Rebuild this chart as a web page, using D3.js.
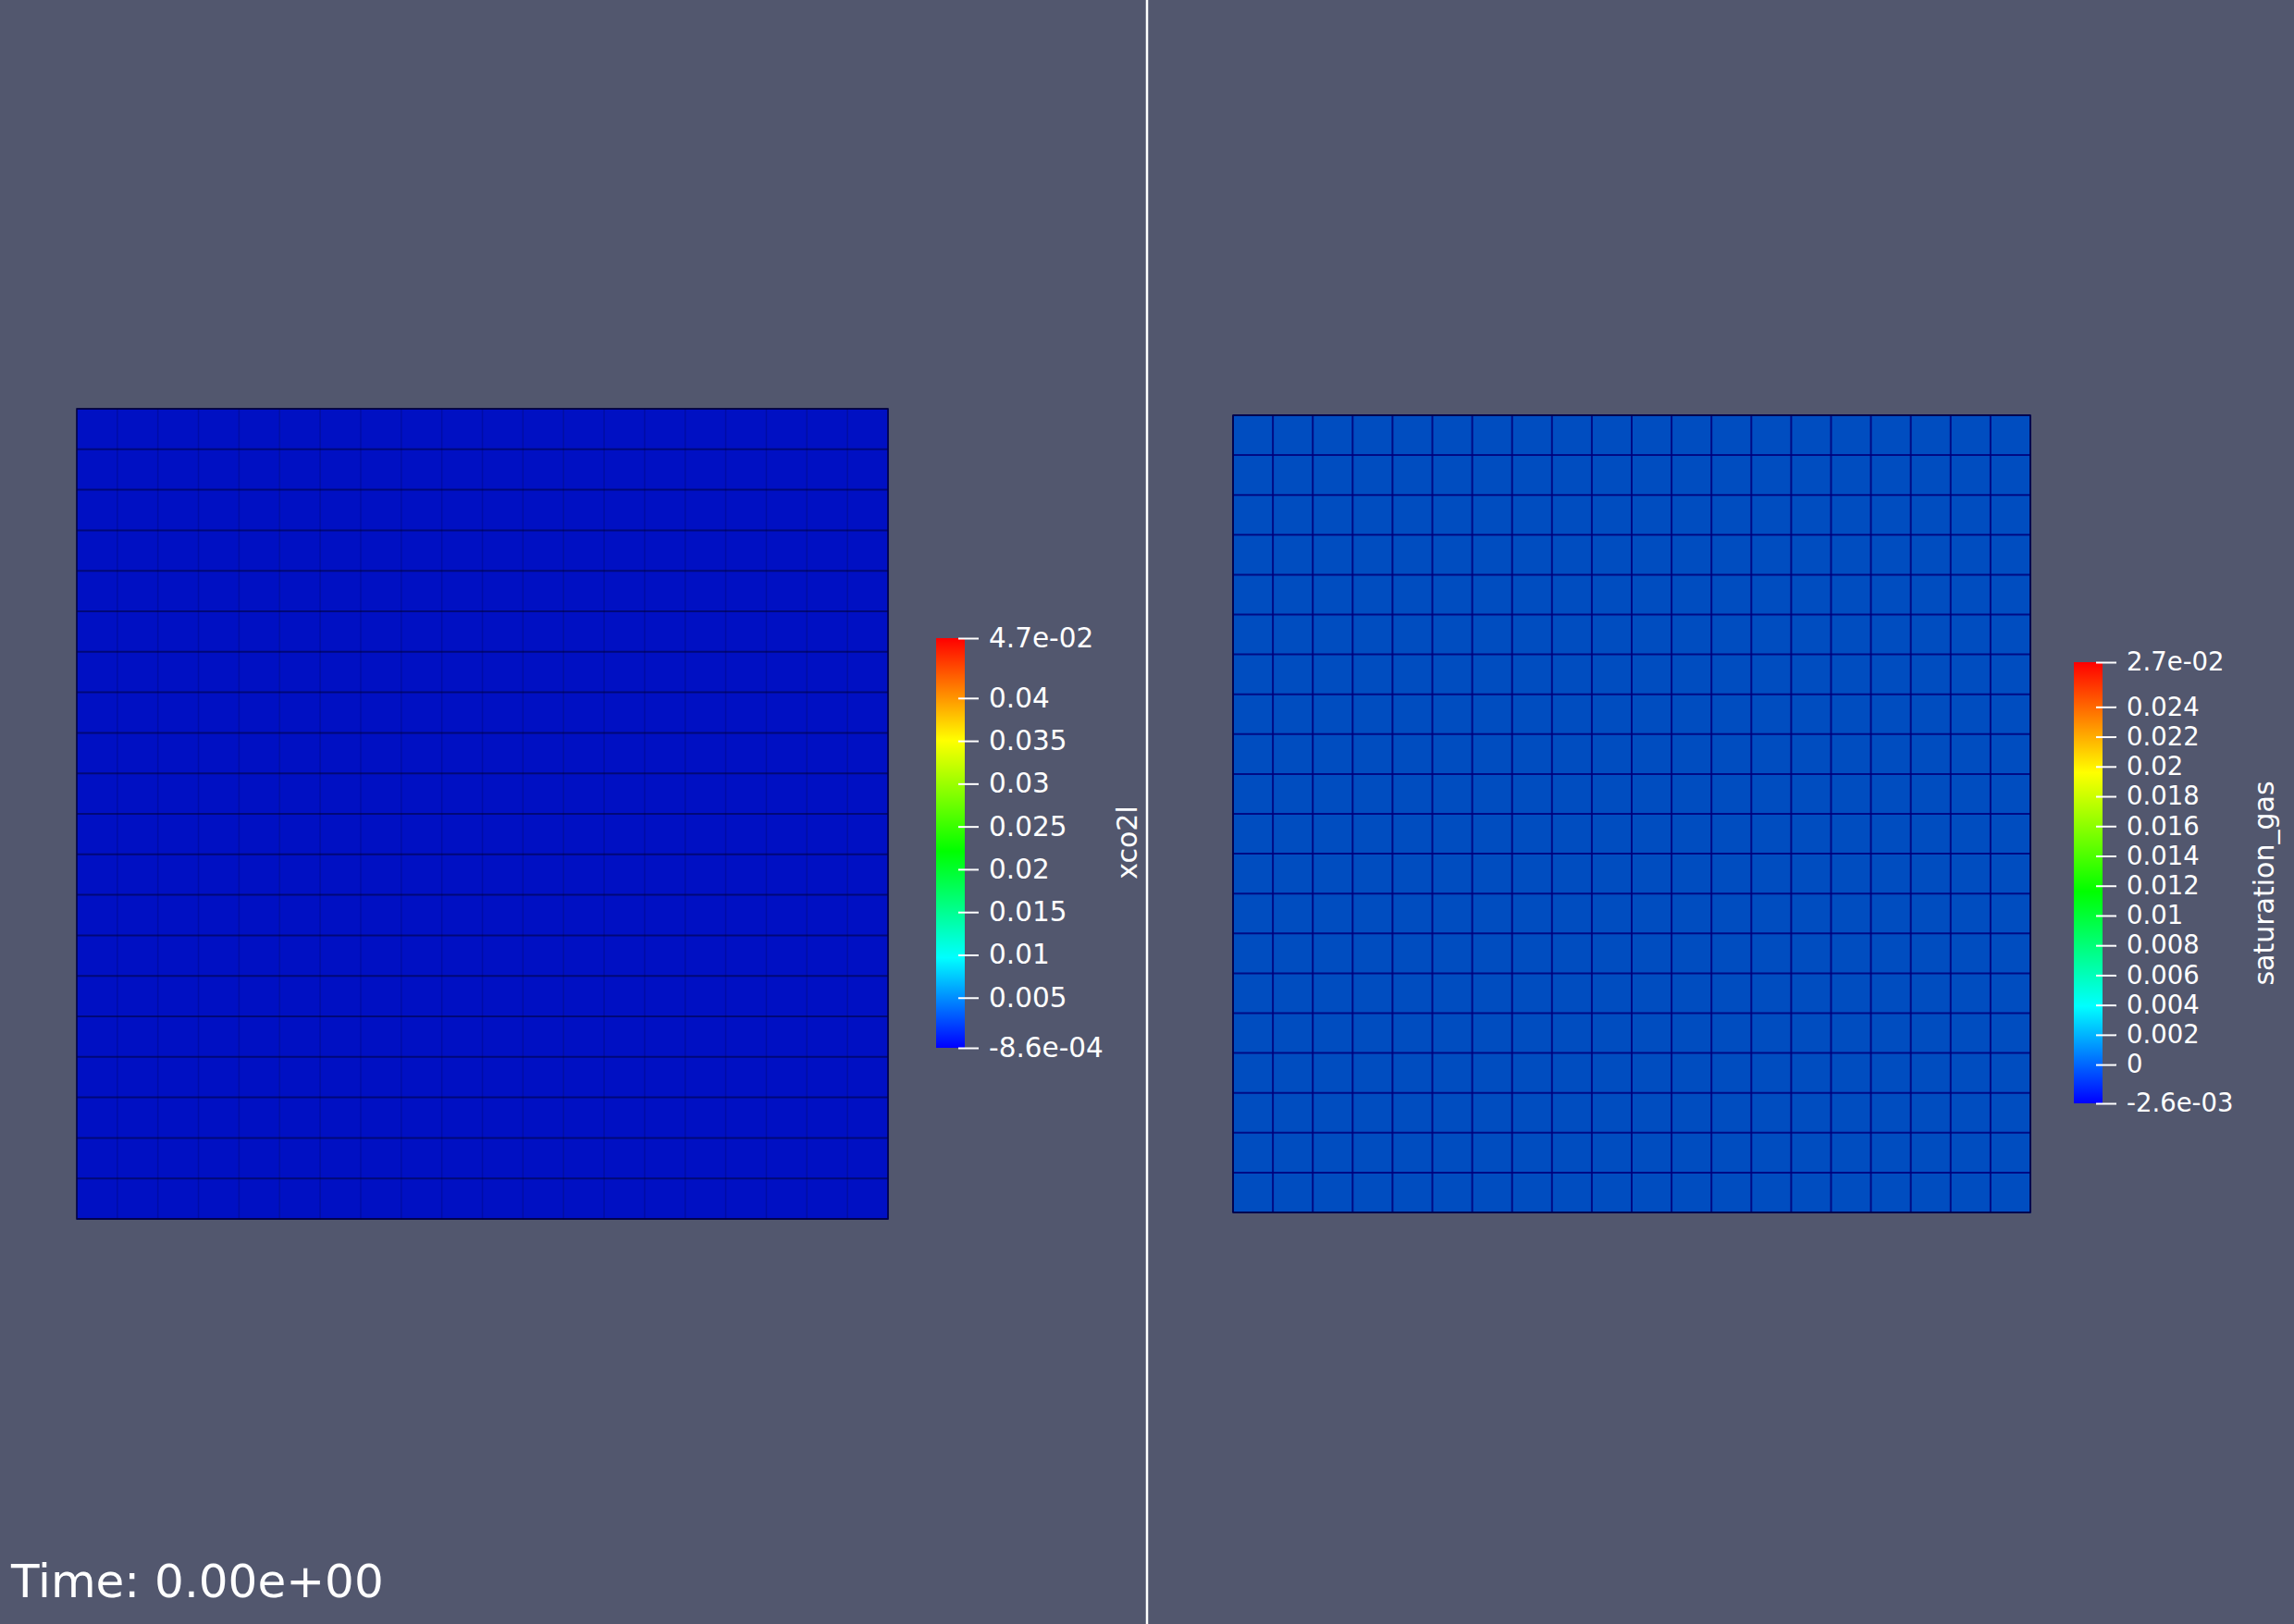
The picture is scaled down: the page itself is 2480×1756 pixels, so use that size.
<!DOCTYPE html>
<html><head><meta charset="utf-8">
<script src="https://cdn.jsdelivr.net/npm/d3@7"></script>
<style>html,body{margin:0;padding:0;background:#52576e;overflow:hidden}</style>
</head><body>
<svg id="c" width="2480" height="1756"></svg>
<script>
// ---- data ----
const timeLabel = "Time: 0.00e+00";
const xco2lRange = [-8.6e-4, 4.7e-2];
const xco2lTicks = [0.005, 0.01, 0.015, 0.02, 0.025, 0.03, 0.035, 0.04];
const xco2lTickLabels = ["0.005","0.01","0.015","0.02","0.025","0.03","0.035","0.04"];
const satRange = [-2.6e-3, 2.7e-2];
const satTicks = [0, 0.002, 0.004, 0.006, 0.008, 0.01, 0.012, 0.014, 0.016, 0.018, 0.02, 0.022, 0.024];
const satTickLabels = ["0","0.002","0.004","0.006","0.008","0.01","0.012","0.014","0.016","0.018","0.02","0.022","0.024"];
// cell values (20 x 20 mesh), all zero at time 0
const row0 = [0,0,0,0,0,0,0,0,0,0,0,0,0,0,0,0,0,0,0,0];
const xco2lCells = [row0,row0,row0,row0,row0,row0,row0,row0,row0,row0,row0,row0,row0,row0,row0,row0,row0,row0,row0,row0];
const satCells   = [row0,row0,row0,row0,row0,row0,row0,row0,row0,row0,row0,row0,row0,row0,row0,row0,row0,row0,row0,row0];

// ---- drawing ----
const svg = d3.select("#c");
const FONT = "'DejaVu Sans', sans-serif";
svg.append("rect").attr("width",2480).attr("height",1756).attr("fill","#52576e");

const stops = [[0,"#0000ff"],[0.22,"#00ffff"],[0.48,"#00ff00"],[0.75,"#ffff00"],[1,"#ff0000"]];
const jetScale = d3.scaleLinear().domain(stops.map(d=>d[0])).range(stops.map(d=>d[1])).interpolate(d3.interpolateRgb).clamp(true);

const defs = svg.append("defs");

function panel(opt){
  const g = svg.append("g");
  const n = opt.cells.length;
  const xs = d3.scaleBand().domain(d3.range(n)).range([opt.x0, opt.x1]);
  const ys = d3.scaleBand().domain(d3.range(n)).range([opt.y0, opt.y1]);
  const norm = d3.scaleLinear().domain(opt.range).range([0,1]);
  opt.cells.forEach((row,i)=>row.forEach((v,j)=>{
    g.append("rect").attr("x",xs(j)).attr("y",ys(i))
     .attr("width",xs.bandwidth()+0.5).attr("height",ys.bandwidth()+0.5)
     .attr("fill", d3.color(jetScale(norm(v))).darker(opt.shade).formatHex());
  }));
  d3.range(n+1).forEach(k=>{
    const yy = opt.y0 + k*ys.step();
    g.append("line").attr("x1",opt.x0).attr("x2",opt.x1).attr("y1",yy).attr("y2",yy)
      .attr("stroke",opt.hColor).attr("stroke-width",opt.hW).attr("stroke-opacity",opt.hOp);
    const xx = opt.x0 + k*xs.step();
    g.append("line").attr("y1",opt.y0).attr("y2",opt.y1).attr("x1",xx).attr("x2",xx)
      .attr("stroke",opt.vColor).attr("stroke-width",opt.vW).attr("stroke-opacity",opt.vOp);
  });
  g.append("rect").attr("x",opt.x0).attr("y",opt.y0).attr("width",opt.x1-opt.x0).attr("height",opt.y1-opt.y0)
   .attr("fill","none").attr("stroke","#000040").attr("stroke-width",1.5);

  const cb = opt.cb;
  const gid = "grad"+opt.id;
  const grad = defs.append("linearGradient").attr("id",gid).attr("x1",0).attr("y1",1).attr("x2",0).attr("y2",0);
  stops.forEach(s=>grad.append("stop").attr("offset",s[0]).attr("stop-color",s[1]));
  const yc = d3.scaleLinear().domain(opt.range).range([cb.bottom, cb.top]);
  svg.append("rect").attr("x",cb.x).attr("y",cb.top).attr("width",cb.w).attr("height",cb.bottom-cb.top)
     .attr("fill","url(#"+gid+")");
  const allTicks = [opt.range[0]].concat(opt.ticks).concat([opt.range[1]]);
  const allLabels = [opt.rangeLabels[0]].concat(opt.tickLabels).concat([opt.rangeLabels[1]]);
  const ax = d3.axisRight(yc).tickValues(allTicks).tickSize(22).tickPadding(11)
     .tickFormat((d,i)=>allLabels[i]);
  const ag = svg.append("g").attr("transform",`translate(${cb.x+cb.w-7},0)`).call(ax);
  ag.select(".domain").remove();
  ag.selectAll("line").attr("stroke","#ffffff").attr("stroke-width",2);
  ag.selectAll("text").attr("fill","#ffffff").attr("font-family",FONT).attr("font-size",opt.tickFont);
  svg.append("text").attr("transform",`translate(${cb.titleX},${cb.titleY}) rotate(-90)`)
    .attr("text-anchor","middle").attr("dominant-baseline","central")
    .attr("fill","#ffffff").attr("font-family",FONT).attr("font-size",30)
    .text(opt.title);
}

panel({id:1, cells:xco2lCells, range:xco2lRange, ticks:xco2lTicks, tickLabels:xco2lTickLabels,
  rangeLabels:["-8.6e-04","4.7e-02"], title:"xco2l", tickFont:29.5,
  x0:83, x1:960, y0:442, y1:1318, shade:0.75,
  hColor:"#000030", hW:2, hOp:0.5, vColor:"#000030", vW:1.5, vOp:0.2,
  cb:{x:1012, w:31, top:690, bottom:1133, titleX:1218, titleY:911}});

panel({id:2, cells:satCells, range:satRange, ticks:satTicks, tickLabels:satTickLabels,
  rangeLabels:["-2.6e-03","2.7e-02"], title:"saturation_gas", tickFont:27.5,
  x0:1333, x1:2195, y0:449, y1:1311, shade:0.8,
  hColor:"#00007a", hW:2, hOp:0.85, vColor:"#00007a", vW:2, vOp:0.85,
  cb:{x:2242, w:31, top:716, bottom:1193, titleX:2447, titleY:955}});

svg.append("line").attr("x1",1240).attr("x2",1240).attr("y1",0).attr("y2",1756)
  .attr("stroke","#ffffff").attr("stroke-width",2.5);

svg.append("text").attr("x",12).attr("y",1727).attr("fill","#ffffff")
  .attr("font-family",FONT).attr("font-size",50).text(timeLabel);
</script>
</body></html>
